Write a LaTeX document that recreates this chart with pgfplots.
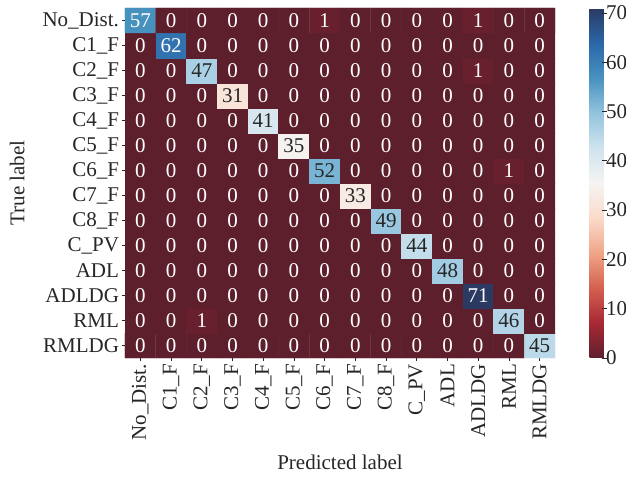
\documentclass[border=0pt]{standalone}
\usepackage{pgfplots}
\pgfplotsset{compat=1.18}
\usepackage{pgfplotstable}
\usepackage{fontspec}
\setmainfont{Liberation Serif}
\definecolor{lab}{HTML}{262626}
\pgfplotstableread[row sep=\\]{
x y v t\\
0 0 0 0\\ 1 0 0 0\\ 2 0 0 0\\ 3 0 0 0\\ 4 0 0 0\\ 5 0 0 0\\ 6 0 0 0\\ 7 0 0 0\\ 8 0 0 0\\ 9 0 0 0\\ 10 0 0 0\\ 11 0 0 0\\ 12 0 0 0\\ 13 0 45 1\\
0 1 0 0\\ 1 1 0 0\\ 2 1 1 0\\ 3 1 0 0\\ 4 1 0 0\\ 5 1 0 0\\ 6 1 0 0\\ 7 1 0 0\\ 8 1 0 0\\ 9 1 0 0\\ 10 1 0 0\\ 11 1 0 0\\ 12 1 46 1\\ 13 1 0 0\\
0 2 0 0\\ 1 2 0 0\\ 2 2 0 0\\ 3 2 0 0\\ 4 2 0 0\\ 5 2 0 0\\ 6 2 0 0\\ 7 2 0 0\\ 8 2 0 0\\ 9 2 0 0\\ 10 2 0 0\\ 11 2 71 0\\ 12 2 0 0\\ 13 2 0 0\\
0 3 0 0\\ 1 3 0 0\\ 2 3 0 0\\ 3 3 0 0\\ 4 3 0 0\\ 5 3 0 0\\ 6 3 0 0\\ 7 3 0 0\\ 8 3 0 0\\ 9 3 0 0\\ 10 3 48 1\\ 11 3 0 0\\ 12 3 0 0\\ 13 3 0 0\\
0 4 0 0\\ 1 4 0 0\\ 2 4 0 0\\ 3 4 0 0\\ 4 4 0 0\\ 5 4 0 0\\ 6 4 0 0\\ 7 4 0 0\\ 8 4 0 0\\ 9 4 44 1\\ 10 4 0 0\\ 11 4 0 0\\ 12 4 0 0\\ 13 4 0 0\\
0 5 0 0\\ 1 5 0 0\\ 2 5 0 0\\ 3 5 0 0\\ 4 5 0 0\\ 5 5 0 0\\ 6 5 0 0\\ 7 5 0 0\\ 8 5 49 1\\ 9 5 0 0\\ 10 5 0 0\\ 11 5 0 0\\ 12 5 0 0\\ 13 5 0 0\\
0 6 0 0\\ 1 6 0 0\\ 2 6 0 0\\ 3 6 0 0\\ 4 6 0 0\\ 5 6 0 0\\ 6 6 0 0\\ 7 6 33 1\\ 8 6 0 0\\ 9 6 0 0\\ 10 6 0 0\\ 11 6 0 0\\ 12 6 0 0\\ 13 6 0 0\\
0 7 0 0\\ 1 7 0 0\\ 2 7 0 0\\ 3 7 0 0\\ 4 7 0 0\\ 5 7 0 0\\ 6 7 52 1\\ 7 7 0 0\\ 8 7 0 0\\ 9 7 0 0\\ 10 7 0 0\\ 11 7 0 0\\ 12 7 1 0\\ 13 7 0 0\\
0 8 0 0\\ 1 8 0 0\\ 2 8 0 0\\ 3 8 0 0\\ 4 8 0 0\\ 5 8 35 1\\ 6 8 0 0\\ 7 8 0 0\\ 8 8 0 0\\ 9 8 0 0\\ 10 8 0 0\\ 11 8 0 0\\ 12 8 0 0\\ 13 8 0 0\\
0 9 0 0\\ 1 9 0 0\\ 2 9 0 0\\ 3 9 0 0\\ 4 9 41 1\\ 5 9 0 0\\ 6 9 0 0\\ 7 9 0 0\\ 8 9 0 0\\ 9 9 0 0\\ 10 9 0 0\\ 11 9 0 0\\ 12 9 0 0\\ 13 9 0 0\\
0 10 0 0\\ 1 10 0 0\\ 2 10 0 0\\ 3 10 31 1\\ 4 10 0 0\\ 5 10 0 0\\ 6 10 0 0\\ 7 10 0 0\\ 8 10 0 0\\ 9 10 0 0\\ 10 10 0 0\\ 11 10 0 0\\ 12 10 0 0\\ 13 10 0 0\\
0 11 0 0\\ 1 11 0 0\\ 2 11 47 1\\ 3 11 0 0\\ 4 11 0 0\\ 5 11 0 0\\ 6 11 0 0\\ 7 11 0 0\\ 8 11 0 0\\ 9 11 0 0\\ 10 11 0 0\\ 11 11 1 0\\ 12 11 0 0\\ 13 11 0 0\\
0 12 0 0\\ 1 12 62 0\\ 2 12 0 0\\ 3 12 0 0\\ 4 12 0 0\\ 5 12 0 0\\ 6 12 0 0\\ 7 12 0 0\\ 8 12 0 0\\ 9 12 0 0\\ 10 12 0 0\\ 11 12 0 0\\ 12 12 0 0\\ 13 12 0 0\\
0 13 57 0\\ 1 13 0 0\\ 2 13 0 0\\ 3 13 0 0\\ 4 13 0 0\\ 5 13 0 0\\ 6 13 1 0\\ 7 13 0 0\\ 8 13 0 0\\ 9 13 0 0\\ 10 13 0 0\\ 11 13 1 0\\ 12 13 0 0\\ 13 13 0 0\\
}\cm
\newcommand\ff{\fontsize{21}{25}\selectfont}
\begin{document}
\begin{tikzpicture}
\useasboundingbox (-125pt,8pt) rectangle (501pt,-470pt);
\begin{axis}[
  at={(0,0)}, anchor=north west,
  scale only axis, width=430pt, height=350pt,
  xmin=-0.5, xmax=13.5, ymin=-0.5, ymax=13.5,
  axis line style={draw=none},
  xtick={0,...,13}, ytick={0,...,13},
  xticklabels={No\_Dist.,C1\_F,C2\_F,C3\_F,C4\_F,C5\_F,C6\_F,C7\_F,C8\_F,C\_PV,ADL,ADLDG,RML,RMLDG},
  yticklabels={RMLDG,RML,ADLDG,ADL,C\_PV,C8\_F,C7\_F,C6\_F,C5\_F,C4\_F,C3\_F,C2\_F,C1\_F,No\_Dist.},
  xtick pos=left, ytick pos=left,
  x tick label style={rotate=90, anchor=east},
  tick label style={font=\ff, text=lab},
  label style={font=\ff, text=lab},
  xlabel={Predicted label}, ylabel={True label},
  xlabel style={yshift=-8pt},
  ylabel style={yshift=11pt},
  tick align=center, major tick length=5pt,
  tick style={lab, line width=0.8pt},
  colormap={rdbu}{rgb255(0)=(94,31,45) rgb255(1)=(168,40,52) rgb255(2)=(212,96,80) rgb255(3)=(240,165,135) rgb255(4)=(250,219,202) rgb255(5)=(245,244,242) rgb255(6)=(207,227,238) rgb255(7)=(146,196,221) rgb255(8)=(72,146,192) rgb255(9)=(42,103,168) rgb255(10)=(42,58,98)},
  point meta min=0, point meta max=71,
  colorbar,
  colorbar style={
    at={(parent axis.north east)}, anchor=north west, xshift=26pt,
    width=19pt,
    axis line style={draw=none},
    ytick={0,10,...,70},
    ytick pos=right, yticklabel pos=right,
    tick align=outside, major tick length=5pt,
    ytick style={lab, line width=0.8pt, xshift=-7pt},
    yticklabel style={font=\ff, text=lab, xshift=-11pt},
    /pgf/number format/assume math mode=true,
  },
]
\addplot[matrix plot*, mesh/cols=14, point meta=explicit, draw=none] table[x=x, y=y, meta=v] {\cm};
\addplot[only marks, mark=none,
  restrict expr to domain={\thisrow{t}}{-0.5:0.5},
  point meta=explicit symbolic, nodes near coords,
  nodes near coords style={anchor=center, font=\ff, text=white}] table[x=x, y=y, meta=v] {\cm};
\addplot[only marks, mark=none,
  restrict expr to domain={\thisrow{t}}{0.5:1.5},
  point meta=explicit symbolic, nodes near coords,
  nodes near coords style={anchor=center, font=\ff, text=lab}] table[x=x, y=y, meta=v] {\cm};
\end{axis}
\end{tikzpicture}
\end{document}
